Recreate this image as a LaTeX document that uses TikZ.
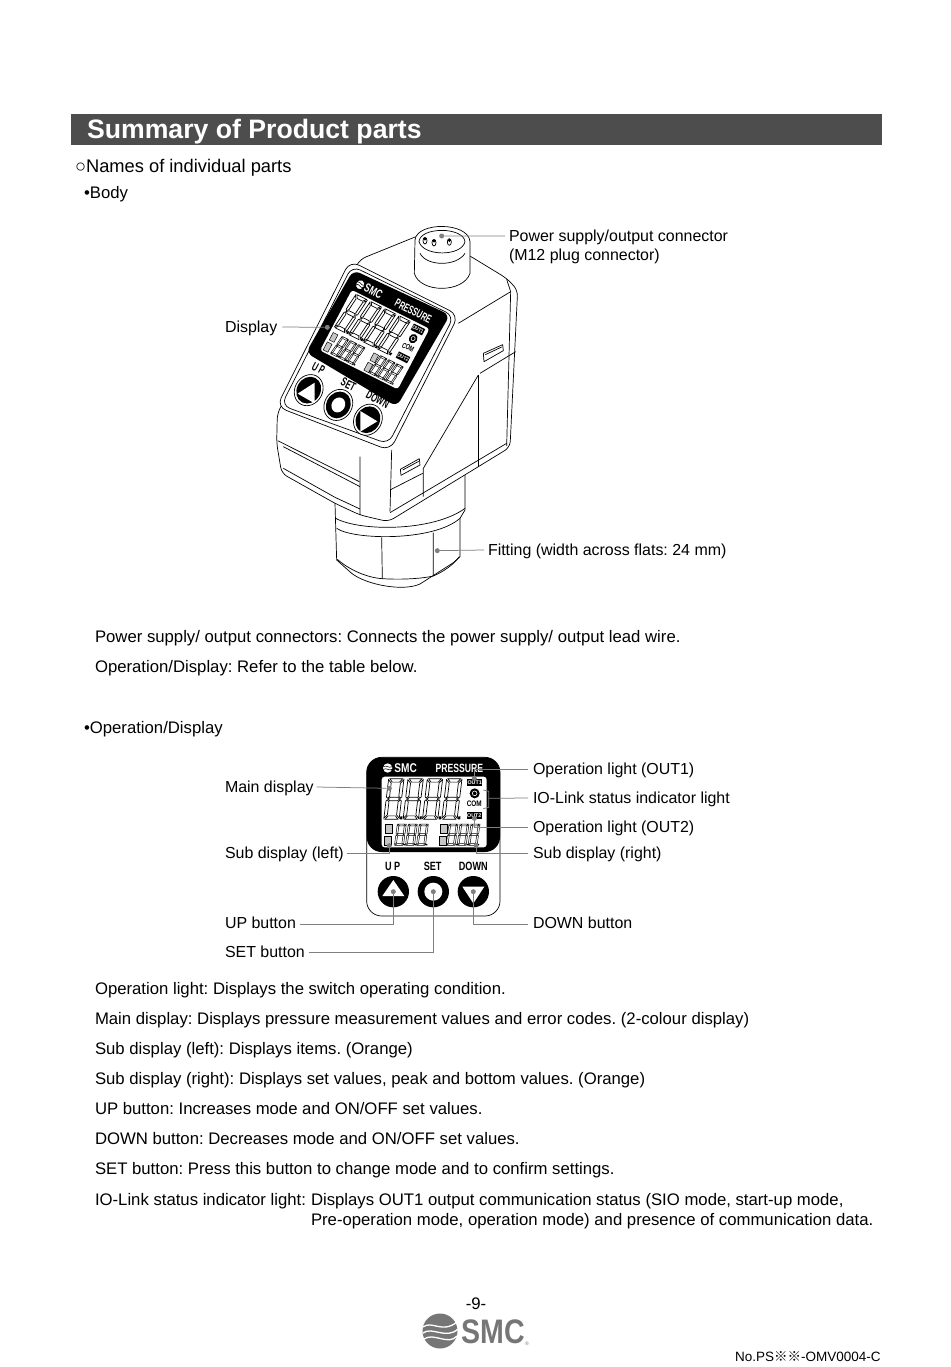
\documentclass[tikz,border=0pt]{standalone}
\usepackage{fontspec}
\setmainfont{Liberation Sans}
\newfontfamily\cjkf{Noto Sans CJK JP}
\AtBeginDocument{\frenchspacing}
\definecolor{barc}{HTML}{4D4D4D}
\definecolor{leadc}{HTML}{7F7F7F}
\definecolor{logoc}{HTML}{767676}
\newcommand{\fsz}[1]{\fontsize{#1}{#1}\selectfont}
\tikzset{
  txt/.style={anchor=base west,inner sep=0pt,outer sep=0pt,text=black,font=\fsz{16.72}},
  lab/.style={anchor=base west,inner sep=0pt,outer sep=0pt,text=black,font=\fsz{15.95}},
  lead/.style={draw=leadc,line width=.75pt},
  dot/.style={circle,fill=leadc,inner sep=0pt,minimum size=5pt},
  ink/.style={draw=black,line width=.7pt,line join=round},
  seg/.style={draw=black,fill=white,line width=.7pt},
  sketchtxt/.style={inner sep=0pt,outer sep=0pt,transform shape,font=\bfseries\fsz{#1}},
}
% one seven-segment digit: top-left x, top y, width, height
\newcommand{\sevenseg}[4]{%
  \begin{scope}[shift={(#1,#2)},xscale=#3,yscale=#4/2,xslant=.16]
    \path[seg] (.08,0)--(.92,0)--(.74,.17)--(.26,.17)--cycle;
    \path[seg] (.12,1)--(.26,.91)--(.74,.91)--(.88,1)--(.74,1.09)--(.26,1.09)--cycle;
    \path[seg] (.08,2)--(.92,2)--(.74,1.83)--(.26,1.83)--cycle;
    \path[seg] (0,.05)--(.2,.22)--(.2,.86)--(.08,.96)--(0,.9)--cycle;
    \path[seg] (1,.05)--(.8,.22)--(.8,.86)--(.92,.96)--(1,.9)--cycle;
    \path[seg] (0,1.95)--(.2,1.78)--(.2,1.14)--(.08,1.04)--(0,1.1)--cycle;
    \path[seg] (1,1.95)--(.8,1.78)--(.8,1.14)--(.92,1.04)--(1,1.1)--cycle;
    \fill (1.06,1.86) rectangle (1.2,2);
  \end{scope}}
% liquid-crystal window, with the black band round it drawn by the caller
\newcommand{\lcdwindow}[1]{%
  \fill[white,rounded corners=3pt] (125,80)--(440,80)--(440,292)--(125,292)--cycle;
  \foreach \xx in {146,204,262,320} {\sevenseg{\xx}{86}{46}{122}}
  \begin{scope}[seg/.append style={line width=.5pt}]
    \foreach \xx in {172,205,238,327,360,393} {\sevenseg{\xx}{222}{27}{64}}
    \foreach \xx in {137,302} {
      \path[seg,fill=gray!45] (\xx,224) rectangle ++(19,26);
      \path[seg,fill=gray!45] (\xx-3,258) rectangle ++(19,28);
    }
  \end{scope}
  \fill[black] (381,87) rectangle (427,109);
  \node[sketchtxt=16,text=white] (#1o1) at (404,98) {OUT1};
  \fill[black] (380,185) rectangle (426,207);
  \node[sketchtxt=16,text=white] (#1o2) at (403,196) {OUT2};
  \fill[black] (404,130) circle (15);
  \draw[white,line width=.6pt] (404,130) circle (7);
  \node[sketchtxt=24,text=black,xscale=.8] (#1com) at (403,162) {COM};
  \node[sketchtxt=36,text=white,xscale=.72] (#1pr) at (358,54) {PRESSURE};
  \node[sketchtxt=38,text=white,xscale=.8] (#1smc) at (197,54) {SMC};
  \fill[white] (143,54) circle (14);
  \draw[black,line width=.55pt] (130,50) .. controls (140,44) and (146,56) .. (157,50);
  \draw[black,line width=.55pt] (130,58) .. controls (140,52) and (146,64) .. (157,58);
}
\begin{document}
\begin{tikzpicture}[x=1pt,y=-1pt]
\useasboundingbox (0,0) rectangle (950,1367);
\fill[white] (0,0) rectangle (950,1367);

% ---------- heading
\fill[barc] (71,114) rectangle (882,145);
\node[txt,text=white,font=\bfseries\fsz{26.65}] (title) at (87,138.5) {Summary of Product parts};
\node[txt,font=\fsz{18.3}] (names) at (75,172.5) {○Names of individual parts};
\node[txt] (body) at (84,199) {•Body};

% ---------- the body, isometric sketch (units: 1/3 px)
\begin{scope}[shift={(220,210)},scale=1/3]
  % fitting
  \path[ink,fill=white] (345,880)--(350,1050)--(395,1090) .. controls (440,1125) and (550,1145) .. (600,1122)--(700,1058)--(720,1040)--(720,925)--(735,900)--(735,790)--cycle;
  \path[ink] (347,925) .. controls (420,965) and (640,965) .. (735,895);
  \path[ink] (350,955) .. controls (400,990) and (640,995) .. (720,925);
  \path[ink] (352,1048) .. controls (400,1090) and (460,1105) .. (487,1106) .. controls (550,1110) and (610,1105) .. (640,1098) .. controls (670,1085) and (700,1065) .. (718,1040);
  \path[ink] (485,982)--(487,1106) (640,968)--(640,1098);
  % housing
  \path[ink,fill=white,rounded corners=6pt] (172,610)--(170,700)--(185,790)--(345,880)--(420,915)--(505,935)--(870,712)--(893,240)--(860,205)--(745,135)--(600,75)--(420,148)--cycle;
  \path[ink] (715,340)--(872,245)--(860,708);
  \path[ink] (860,208)--(872,245);
  \path[ink] (780,490)--(887,425);
  \path[ink] (775,495)--(610,775)--(610,860);
  \path[ink] (775,495)--(775,772);
  \path[ink] (420,740)--(420,915) (515,720)--(510,905);
  \path[ink] (173,692)--(418,815) (190,710)--(420,830);
  \path[ink] (190,775)--(345,862)--(420,897);
  \path[ink] (510,908)--(860,700);
  \path[ink] (510,840)--(608,790);
  % slots
  \path[ink,fill=white] (541,778)--(598,746)--(600,765)--(543,796)--cycle;
  \path[ink] (548,780)--(596,754);
  \path[ink,fill=white] (790,430)--(848,404)--(850,422)--(792,455)--cycle;
  \path[ink] (796,434)--(845,411);
  % M12 connector
  \path[ink,fill=white] (585,90)--(583,190) .. controls (600,250) and (730,250) .. (750,190)--(750,95) .. controls (745,35) and (590,35) .. (585,90)--cycle;
  \path[ink] (600,130) .. controls (620,170) and (710,170) .. (735,130);
  \path[ink] (597,95) .. controls (600,50) and (730,50) .. (735,95) .. controls (725,140) and (610,140) .. (597,95)--cycle;
  \foreach \px/\py in {615/92,642/98,688/96} {
    \path[ink,fill=white] (\px,\py) ellipse (6 and 10);
    \fill (\px,\py-5) circle (5);
  }
  % front frame
  \path[ink,fill=white,rounded corners=10pt] (390,152)--(716,315)--(510,722)--(170,590)--cycle;
  \path[ink,fill=white,rounded corners=9pt] (396,168)--(702,318)--(505,702)--(184,586)--cycle;
  \fill[black,rounded corners=7pt] (400,180)--(690,315)--(530,590)--(258,428)--cycle;
  % liquid crystal window mapped on to the slanted face
  \begin{scope}[cm={.74,-.37,.45,.857,(339,125)}]
    \lcdwindow{a}
  \end{scope}
  % buttons
  \begin{scope}[cm={.74,-.37,.45,.857,(339,117)}]
    \path[ink,fill=white] (160,425) circle (50);
    \path[ink,fill=white] (280,425) circle (50);
    \path[ink,fill=white] (400,425) circle (50);
    \fill (160,425) circle (43);
    \fill (280,425) circle (43);
    \fill (400,425) circle (43);
    \fill[white] (280,425) circle (24);
    \node[sketchtxt=38,text=black,xscale=.72] (aup) at (155,352) {U P};
    \node[sketchtxt=38,text=black,xscale=.72] (aset) at (278,354) {SET};
    \node[sketchtxt=38,text=black,xscale=.72] (adown) at (397,355) {DOWN};
  \end{scope}
  \fill[white] (233,551)--(284,518)--(284,580)--cycle;
  \fill[white] (421,603)--(421,665)--(472,634)--cycle;
  % leaders
  \node[dot] (dconn) at (665,78) {};
  \node[dot] (ddisp) at (322,352) {};
  \node[dot] (dfit) at (652,1022) {};
\end{scope}
\node[lab] (conn) at (509,241) {Power supply/output connector};
\node[lab] (conn2) at (509,260) {(M12 plug connector)};
\node[lab] (disp) at (225,332) {Display};
\node[lab] (fit) at (488,555) {Fitting (width across flats: 24 mm)};
\draw[lead] (dconn) -- ([shift={(-4pt,5pt)}]conn.base west);
\draw[lead] (ddisp) -- ([shift={(5pt,5pt)}]disp.base east);
\draw[lead] (dfit) -- ([shift={(-4pt,5pt)}]fit.base west);

\node[txt] (t1) at (95,642) {Power supply/ output connectors: Connects the power supply/ output lead wire.};
\node[txt] (t2) at (95,672) {Operation/Display: Refer to the table below.};
\node[txt] (opd) at (84,733) {•Operation/Display};

% ---------- flat display (units: 1/3 px)
\begin{scope}[shift={(340,750)},scale=1/3]
  \path[ink,fill=white,rounded corners=15pt] (80,22)--(480,22)--(480,498)--(80,498)--cycle;
  \fill[black,rounded corners=15pt] (80,22)--(480,22)--(480,306)--(80,306)--cycle;
  \lcdwindow{b}
  \node[sketchtxt=36,text=black,xscale=.76] (bup) at (158,350) {U P};
  \node[sketchtxt=36,text=black,xscale=.76] (bset) at (278,350) {SET};
  \node[sketchtxt=36,text=black,xscale=.76] (bdown) at (400,350) {DOWN};
  \fill (160,425) circle (47);
  \fill (280,425) circle (47);
  \fill (400,425) circle (47);
  \fill[white] (160,390)--(193,438)--(127,438)--cycle;
  \fill[white] (280,425) circle (27);
  \fill[white] (400,460)--(367,410)--(433,410)--cycle;
  \node[dot] (dout1) at (403,85) {};
  \node[dot] (dmain) at (148,115) {};
  \node[dot] (dout2) at (403,205) {};
  \node[dot] (dsl) at (148,287) {};
  \node[dot] (dsr) at (408,287) {};
  \node[dot] (dup) at (160,425) {};
  \node[dot] (dset) at (280,425) {};
  \node[dot] (ddown) at (400,425) {};
  \coordinate (brt) at (430,120);
  \coordinate (brtc) at (446,124);
  \coordinate (brm) at (446,145);
  \coordinate (brbc) at (446,172);
  \coordinate (brb) at (430,176);
\end{scope}
\node[lab] (lmain) at (225,792) {Main display};
\node[lab] (lsl) at (225,858) {Sub display (left)};
\node[lab] (lup) at (225,928.5) {UP button};
\node[lab] (lset) at (225,957) {SET button};
\node[lab] (lo1) at (533,774) {Operation light (OUT1)};
\node[lab] (lio) at (533,803) {IO-Link status indicator light};
\node[lab] (lo2) at (533,832) {Operation light (OUT2)};
\node[lab] (lsr) at (533,858) {Sub display (right)};
\node[lab] (ldown) at (533,928.5) {DOWN button};
\draw[lead] ([shift={(3pt,5pt)}]lmain.base east) -- (dmain);
\draw[lead] ([shift={(3pt,4.5pt)}]lsl.base east) -| (dsl);
\draw[lead] ([shift={(4pt,4.5pt)}]lup.base east) -| (dup);
\draw[lead] ([shift={(4pt,5pt)}]lset.base east) -| (dset);
\draw[lead] ([shift={(-5pt,4.5pt)}]lo1.base west) -| (dout1);
\draw[lead] ([shift={(-5pt,5pt)}]lio.base west) -- (brm);
\draw[lead] (brt) -- (brtc) -- (brbc) -- (brb);
\draw[lead] ([shift={(-5pt,5pt)}]lo2.base west) -| (dout2);
\draw[lead] ([shift={(-5pt,4.5pt)}]lsr.base west) -| (dsr);
\draw[lead] ([shift={(-5pt,4.5pt)}]ldown.base west) -| (ddown);

% ---------- explanations
\node[txt] (e1) at (95,994) {Operation light: Displays the switch operating condition.};
\node[txt] (e2) at (95,1024) {Main display: Displays pressure measurement values and error codes. (2-colour display)};
\node[txt] (e3) at (95,1054) {Sub display (left): Displays items. (Orange)};
\node[txt] (e4) at (95,1084) {Sub display (right): Displays set values, peak and bottom values. (Orange)};
\node[txt] (e5) at (95,1114) {UP button: Increases mode and ON/OFF set values.};
\node[txt] (e6) at (95,1144) {DOWN button: Decreases mode and ON/OFF set values.};
\node[txt] (e7) at (95,1174) {SET button: Press this button to change mode and to confirm settings.};
\node[txt] (e8) at (95,1205) {IO-Link status indicator light:};
\node[txt] (e9) at (311,1205) {Displays OUT1 output communication status (SIO mode, start-up mode,};
\node[txt] (e10) at (311,1225) {Pre-operation mode, operation mode) and presence of communication data.};

% ---------- footer
\node[txt,anchor=base] (pg) at (476,1309) {-9-};
\fill[logoc] (440,1331) circle (17.5);
\draw[white,line width=1.3pt] (423,1327) .. controls (432,1320) and (442,1334) .. (457,1322);
\draw[white,line width=1.3pt] (423,1333) .. controls (432,1326) and (446,1340) .. (458,1329);
\draw[white,line width=1.3pt] (424,1339) .. controls (434,1332) and (448,1346) .. (457,1336);
\node[inner sep=0pt,anchor=base west,text=logoc,font=\bfseries\fsz{34},xscale=.84] (logo) at (461,1343) {SMC};
\node[inner sep=0pt,anchor=base west,text=logoc,font=\fsz{5}] (reg) at (525,1345) {®};
\node[txt,font=\fsz{13.5}] (doc) at (735,1361) {No.PS{\cjkf ※※}-OMV0004-C};
\end{tikzpicture}
\end{document}
